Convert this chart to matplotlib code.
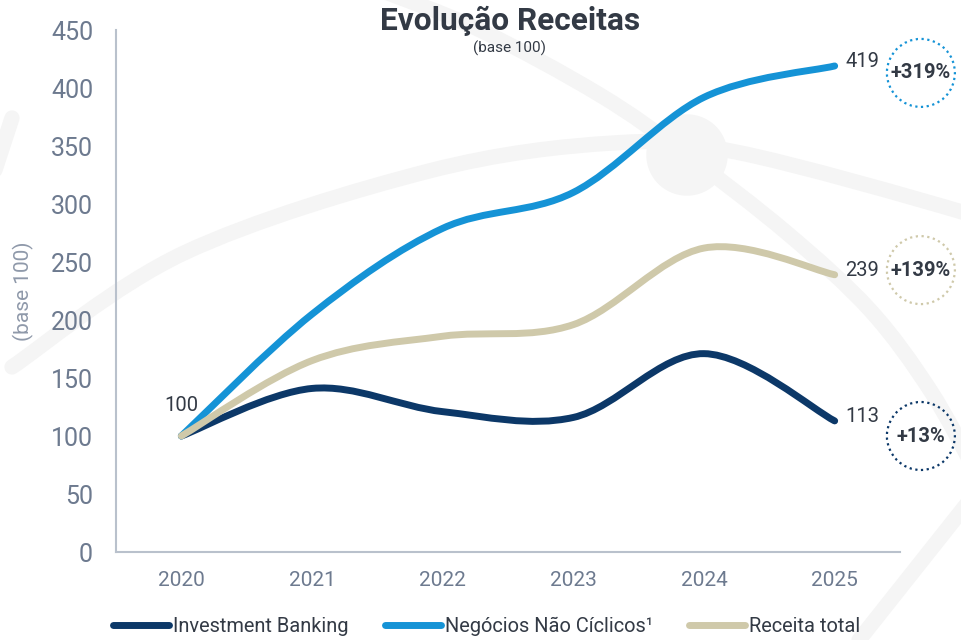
import numpy as np
import matplotlib
matplotlib.use("Agg")
import matplotlib.pyplot as plt
from matplotlib.path import Path
from matplotlib.patches import PathPatch, Circle
from matplotlib import transforms

plt.rcParams['font.family'] = ['Roboto', 'DejaVu Sans']

# data
years = ["2020", "2021", "2022", "2023", "2024", "2025"]
investment_banking = [100, 141, 121, 116, 171, 113]
nao_ciclicos = [100, 205, 279, 310, 392, 419]
receita_total = [100, 165, 186, 196, 262, 239]
growth_labels = ["+13%", "+319%", "+139%"]
series_names = ["Investment Banking", "Negócios Não Cíclicos¹", "Receita total"]

colors = ["#0c3868", "#1593d6", "#cfc9aa"]
tick_color = "#6d7a8f"
text_color = "#333a45"


def smooth_path(xs, ys, t=1.0):
    # catmull-rom style bezier through the points
    pts = np.column_stack([xs, ys]).astype(float)
    verts = [pts[0]]
    codes = [Path.MOVETO]
    n = len(pts)
    for i in range(n - 1):
        p0 = pts[i - 1] if i > 0 else pts[i]
        p1 = pts[i]
        p2 = pts[i + 1]
        p3 = pts[i + 2] if i + 2 < n else pts[i + 1]
        c1 = p1 + (p2 - p0) * t / 6
        c2 = p2 - (p3 - p1) * t / 6
        verts += [c1, c2, p2]
        codes += [Path.CURVE4] * 3
    return Path(verts, codes)


fig = plt.figure(figsize=(9.62, 6.4), dpi=100)

# faint decorative shapes behind the chart (figure pixel coords)
bg = fig.add_axes([0, 0, 1, 1], zorder=-5)
bg.set_xlim(0, 962)
bg.set_ylim(640, 0)
bg.axis("off")
bgc = "#f5f5f5"
deco = [
    ([12, 184, 429, 613, 736, 962, 1000], [367, 253, 171, 143, 152, 212, 230]),
    ([380, 480, 600, 687, 787, 870, 930, 975], [-10, 30, 95, 155, 233, 310, 390, 470]),
    ([12, -5], [118, 170]),
    ([859, 970], [640, 500]),
]
for dx, dy in deco:
    bg.add_patch(PathPatch(smooth_path(dx, dy), facecolor="none", edgecolor=bgc,
                           lw=11, capstyle="round"))
bg.add_patch(Circle((687, 155), 40, color=bgc))

ax = fig.add_axes([116 / 962, 1 - 552 / 640, (900 - 116) / 962, (552 - 30) / 640])
ax.patch.set_alpha(0)
x = np.arange(len(years))

all_series = [investment_banking, nao_ciclicos, receita_total]
for k in [1, 2, 0]:
    p = smooth_path(x, all_series[k])
    ax.add_patch(PathPatch(p, facecolor="none", edgecolor=colors[k], lw=5,
                           capstyle="round", joinstyle="round", zorder=3 + k))

ax.set_xlim(-0.5, len(years) - 0.5)
ax.set_ylim(0, 450)
ax.set_yticks(range(0, 451, 50))
ax.set_xticks(x)
ax.set_xticklabels(years)
ax.tick_params(axis="y", length=0, labelsize=18, labelcolor=tick_color, pad=16.5)
ax.tick_params(axis="x", length=0, labelsize=15, labelcolor=tick_color, pad=13.5)
for s in ["top", "right"]:
    ax.spines[s].set_visible(False)
for s in ["left", "bottom"]:
    ax.spines[s].set_color("#b9c1cc")
    ax.spines[s].set_linewidth(1.5)
ax.set_ylabel("(base 100)", fontsize=15, color="#8f99aa", labelpad=12)

# value labels
ax.text(0, 126, "100", ha="center", va="center", fontsize=14.5, color=text_color)
for k in range(3):
    last = all_series[k][-1]
    ax.text(x[-1] + 0.08, last + 4, str(last), ha="left", va="center",
            fontsize=14.5, color=text_color, clip_on=False)

# growth circles
circle_y = [100, 413, 243]
for k in range(3):
    cx, cy = x[-1] + 0.66, circle_y[k]
    tr = fig.dpi_scale_trans + transforms.ScaledTranslation(cx, cy, ax.transData)
    circ = Circle((0, 0), 0.34, transform=tr, facecolor="none", edgecolor=colors[k],
                  lw=1.6, linestyle=(0, (1, 1.6)), clip_on=False)
    ax.add_patch(circ)
    ax.text(cx, cy, growth_labels[k], ha="center", va="center", fontsize=14.5,
            fontweight="bold", color=text_color, clip_on=False)

fig.text(0.530, 0.968, "Evolução Receitas", ha="center", va="center",
         fontsize=22.8, fontweight="bold", color=text_color)
fig.text(0.530, 0.924, "(base 100)", ha="center", va="center", fontsize=11,
         color=text_color)

handles = [plt.Line2D([], [], color=c, lw=5, solid_capstyle="round") for c in colors]
fig.legend(handles, series_names, loc="center", bbox_to_anchor=(0.506, 0.021),
           ncol=3, frameon=False, fontsize=14.4, handlelength=2.8, handletextpad=0.2,
           columnspacing=1.8, labelcolor=text_color, borderaxespad=0, borderpad=0)

fig.savefig("out.png", dpi=100)
